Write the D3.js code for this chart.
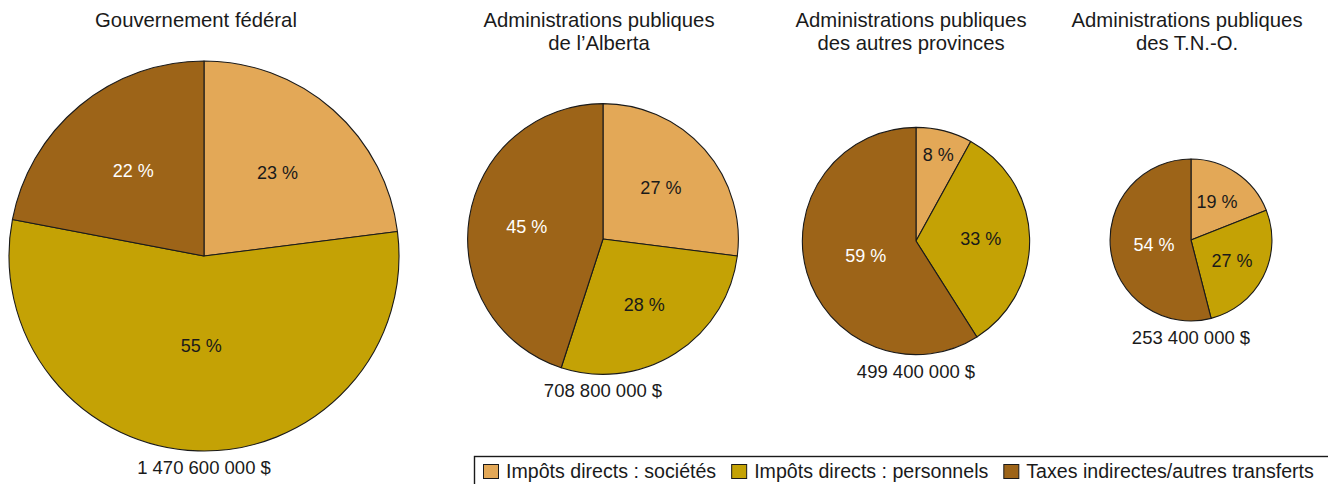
<!DOCTYPE html>
<html lang="fr">
<head>
<meta charset="utf-8">
<script src="https://cdn.jsdelivr.net/npm/d3@7"></script>
<style>
  html, body { margin: 0; padding: 0; background: #fff; }
  svg { display: block; }
  text { font-family: "Liberation Sans", Arial, sans-serif; fill: #1a1a1a; }
</style>
</head>
<body>
<svg id="chart" width="1328" height="484"></svg>
<script>
// Revenue categories (legend order = slice order, clockwise from 12 o'clock)
const categories = ["Impôts directs : sociétés", "Impôts directs : personnels", "Taxes indirectes/autres transferts"];

// Government levels (title lines)
const governments = [
  ["Gouvernement fédéral"],
  ["Administrations publiques", "de l’Alberta"],
  ["Administrations publiques", "des autres provinces"],
  ["Administrations publiques", "des T.N.-O."]
];

// Total revenue per government, in dollars
const totals = [1470600000, 708800000, 499400000, 253400000];
const totalLabels = ["1 470 600 000 $", "708 800 000 $", "499 400 000 $", "253 400 000 $"];

// Shares (%) per government, in category order
const sharesFederal   = [23, 55, 22];
const sharesAlberta   = [27, 28, 45];
const sharesProvinces = [8, 33, 59];
const sharesTNO       = [19, 27, 54];
const shares = [sharesFederal, sharesAlberta, sharesProvinces, sharesTNO];

// ---- layout ----
const colors = ["#e3a857", "#c4a205", "#9d6418"];
const labelColors = ["#1a1a1a", "#1a1a1a", "#ffffff"];
const centers = [[204, 256], [603, 239], [916, 241], [1191, 240]];
const titleX = [196, 599, 911, 1187];

const svg = d3.select("#chart");

// pie area proportional to total revenue
const rScale = d3.scaleSqrt().domain([0, d3.max(totals)]).range([0, 195]);
const color = d3.scaleOrdinal().domain(categories).range(colors);
const pie = d3.pie().sort(null).value(d => d.value);

governments.forEach((lines, i) => {
  const [cx, cy] = centers[i];
  const r = rScale(totals[i]);
  const g = svg.append("g").attr("transform", `translate(${cx},${cy})`);

  const data = pie(shares[i].map((v, k) => ({ cat: categories[k], value: v, k })));
  const arc = d3.arc().innerRadius(0).outerRadius(r);

  g.selectAll("path.slice")
    .data(data)
    .join("path")
    .attr("class", "slice")
    .attr("d", arc)
    .attr("fill", d => color(d.data.cat))
    .attr("stroke", "#1a1a1a")
    .attr("stroke-width", 1.1)
    .attr("stroke-linejoin", "round");

  // label radius: big slices sit nearer the centre, tiny ones near the rim
  const labelFrac = d => {
    const s = d.data.value / 100;
    if (s < 0.12) return 0.79;
    if (s > 0.5) return 0.46;
    return 0.57;
  };
  g.selectAll("text.pct")
    .data(data)
    .join("text")
    .attr("class", "pct")
    .attr("transform", d => {
      const a = (d.startAngle + d.endAngle) / 2;
      const rr = r * labelFrac(d);
      return `translate(${Math.sin(a) * rr},${-Math.cos(a) * rr})`;
    })
    .attr("text-anchor", "middle")
    .attr("dy", "0.36em")
    .style("font-size", "18px")
    .style("fill", d => labelColors[d.data.k])
    .text(d => `${d.data.value} %`);

  // total below the pie
  g.append("text")
    .attr("x", 0)
    .attr("y", r + 23)
    .attr("text-anchor", "middle")
    .style("font-size", "18.5px")
    .text(totalLabels[i]);

  // title above
  svg.append("text")
    .attr("x", titleX[i])
    .attr("y", 27)
    .attr("text-anchor", "middle")
    .style("font-size", "20.3px")
    .selectAll("tspan")
    .data(lines)
    .join("tspan")
    .attr("x", titleX[i])
    .attr("dy", (d, j) => j === 0 ? 0 : 23)
    .text(d => d);
});

// ---- legend ----
const legend = svg.append("g");
legend.append("rect")
  .attr("x", 474.5).attr("y", 456.5)
  .attr("width", 900).attr("height", 60)
  .attr("fill", "#fff")
  .attr("stroke", "#1a1a1a")
  .attr("stroke-width", 1.4);

let lx = 483;
categories.forEach(c => {
  const item = legend.append("g").attr("transform", `translate(${lx},0)`);
  item.append("rect")
    .attr("x", 0.5).attr("y", 464.5)
    .attr("width", 15).attr("height", 14)
    .attr("fill", color(c))
    .attr("stroke", "#1a1a1a")
    .attr("stroke-width", 1);
  const t = item.append("text")
    .attr("x", 23).attr("y", 478)
    .style("font-size", "19.6px")
    .text(c);
  lx += 23 + t.node().getComputedTextLength() + 15;
});
</script>
</body>
</html>
